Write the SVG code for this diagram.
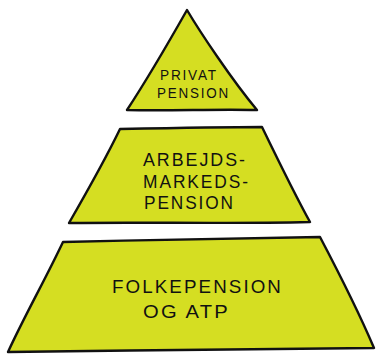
<svg xmlns="http://www.w3.org/2000/svg" width="376" height="356" viewBox="0 0 376 356">
<style>
.shape{fill:#d5de22;stroke:#111;stroke-width:2.4;stroke-linejoin:round;stroke-linecap:round}
.t{font-family:"Liberation Sans","DejaVu Sans",sans-serif;font-size:18px;fill:#111;letter-spacing:2px}
.s{font-size:15px}
</style>
<rect width="376" height="356" fill="#fff"/>
<g id="privat">
<path class="shape" d="M187,10 C200,32 232,80 257,110 C215,109 170,111 127,110 C148,78 170,40 187,10 Z"/>
<text class="t s" x="160" y="80" textLength="58" lengthAdjust="spacingAndGlyphs">PRIVAT</text>
<text class="t s" x="157" y="98" textLength="73" lengthAdjust="spacingAndGlyphs">PENSION</text>
</g>
<g id="arbejds">
<path class="shape" d="M120,129 C170,128 220,127 262,127 C278,160 295,195 310,222 C230,224 150,222 69,223 C88,190 105,160 120,129 Z"/>
<text class="t" x="143" y="166" textLength="104" lengthAdjust="spacingAndGlyphs">ARBEJDS-</text>
<text class="t" x="143" y="188" textLength="107" lengthAdjust="spacingAndGlyphs">MARKEDS-</text>
<text class="t" x="144" y="209" textLength="91" lengthAdjust="spacingAndGlyphs">PENSION</text>
</g>
<g id="folke">
<path class="shape" d="M63,242 C150,240 240,238 320,237 C340,275 360,315 374,348 C250,350 130,350 8,352 C25,315 45,280 63,242 Z"/>
<text class="t" x="112" y="293" textLength="171" lengthAdjust="spacingAndGlyphs">FOLKEPENSION</text>
<text class="t" x="143" y="318" textLength="87" lengthAdjust="spacingAndGlyphs">OG ATP</text>
</g>
<g id="connectors"/>
</svg>
